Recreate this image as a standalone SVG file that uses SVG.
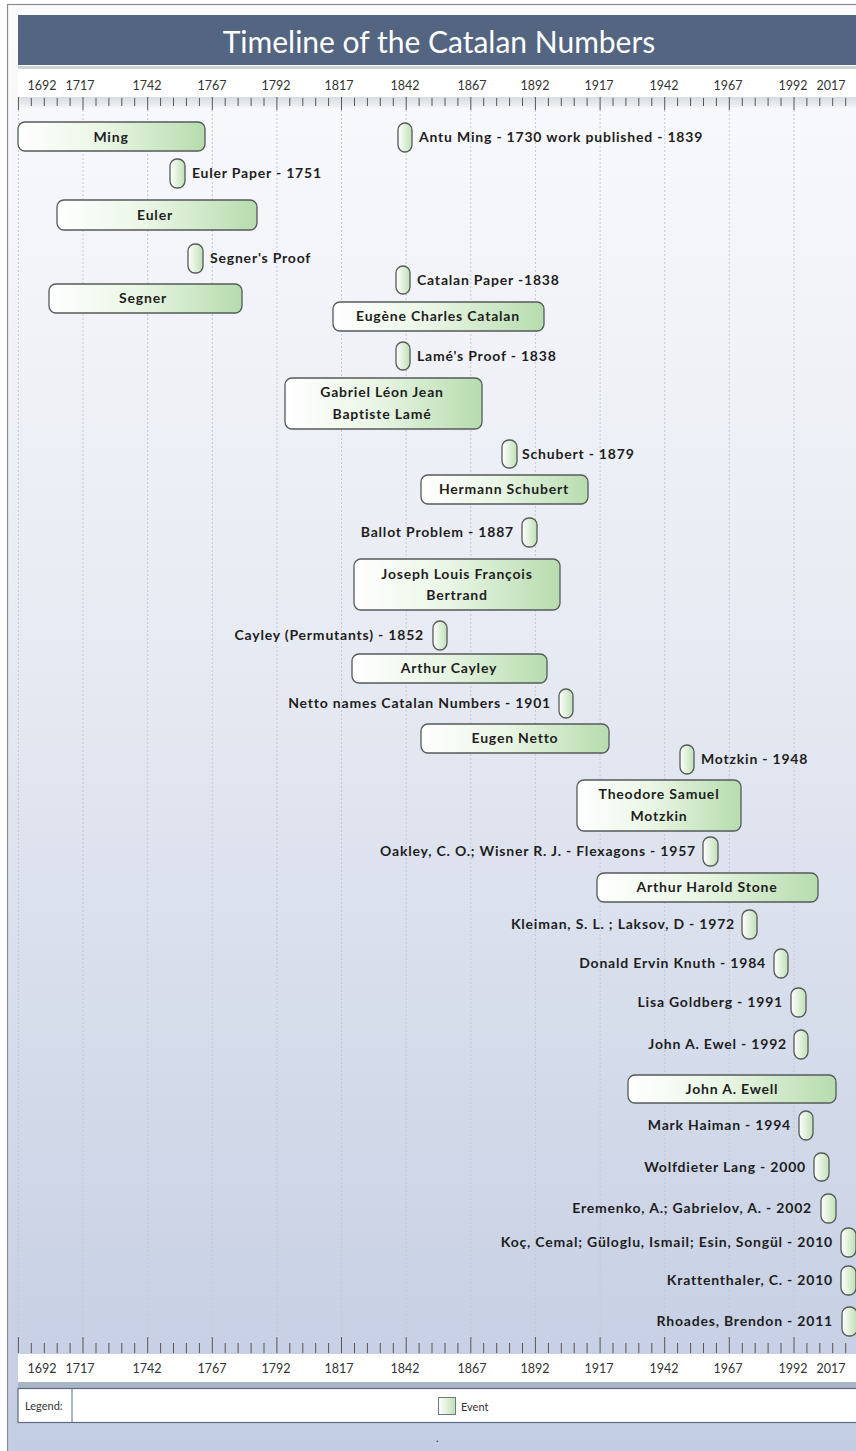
<svg xmlns="http://www.w3.org/2000/svg" width="856" height="1451" viewBox="0 0 856 1451">
<defs>
<linearGradient id="bg" x1="0" y1="0" x2="0" y2="1">
<stop offset="0" stop-color="#fbfbfd"/>
<stop offset="0.45" stop-color="#e6eaf2"/>
<stop offset="1" stop-color="#c2cce2"/>
</linearGradient>
<linearGradient id="grn" x1="0" y1="0" x2="1" y2="0">
<stop offset="0" stop-color="#ffffff"/>
<stop offset="0.45" stop-color="#eaf6e6"/>
<stop offset="1" stop-color="#b7dcae"/>
</linearGradient>
<linearGradient id="pill" x1="0" y1="0" x2="1" y2="0">
<stop offset="0" stop-color="#ffffff"/>
<stop offset="1" stop-color="#bfe0b4"/>
</linearGradient>
<linearGradient id="rul" x1="0" y1="0" x2="0" y2="1">
<stop offset="0" stop-color="#d6dae2"/>
<stop offset="1" stop-color="#f3f4f7"/>
</linearGradient>
<style>
.bar{fill:url(#grn);stroke:#555a5a;stroke-width:1.3}
.pl{fill:url(#pill);stroke:#555a5a;stroke-width:1.3}
.bt{font-family:Lato,"Open Sans",sans-serif;font-weight:bold;font-size:14px;letter-spacing:0.8px;fill:#1e1e1e;text-anchor:middle}
.lt{font-family:Lato,"Open Sans",sans-serif;font-weight:bold;font-size:14px;letter-spacing:0.8px;fill:#1e1e1e}
.le{text-anchor:end}
.yr{font-family:Lato,"Open Sans",sans-serif;font-size:12.5px;fill:#333;text-anchor:middle}
.grid{stroke:#c3c8d2;stroke-width:1;stroke-dasharray:2 2}
.tk{stroke:#555;stroke-width:1;fill:none}
.sm{font-family:Lato,"Open Sans",sans-serif;font-size:11px;fill:#333}
</style>
</defs>
<rect x="0" y="0" width="856" height="1451" fill="#ffffff"/>
<rect x="7.5" y="4.5" width="860" height="1460" fill="url(#bg)" stroke="#8a8d92" stroke-width="1.2"/>
<g id="header">
<rect x="18" y="15" width="850" height="50" fill="#536580"/>
<text x="439" y="53" font-family="Lato,'Open Sans',sans-serif" font-size="30" fill="#ffffff" text-anchor="middle">Timeline of the Catalan Numbers</text>
</g>
<g id="top-axis">
<rect x="18" y="66" width="850" height="4" fill="#cdd2da"/>
<rect x="18" y="69" width="850" height="28" fill="#ffffff"/>
<rect x="18" y="97" width="850" height="11" fill="url(#rul)"/>
<text class="yr" x="42" y="90">1692</text>
<text class="yr" x="80" y="90">1717</text>
<text class="yr" x="147" y="90">1742</text>
<text class="yr" x="212" y="90">1767</text>
<text class="yr" x="276" y="90">1792</text>
<text class="yr" x="339" y="90">1817</text>
<text class="yr" x="405" y="90">1842</text>
<text class="yr" x="472" y="90">1867</text>
<text class="yr" x="535" y="90">1892</text>
<text class="yr" x="599" y="90">1917</text>
<text class="yr" x="664" y="90">1942</text>
<text class="yr" x="728" y="90">1967</text>
<text class="yr" x="793" y="90">1992</text>
<text class="yr" x="831" y="90">2017</text>
<path class="tk" d="M18.4 97v13M31.3 98v8M44.3 98v8M57.2 98v8M70.1 98v8M83 97v13M96 98v8M108.9 98v8M121.8 98v8M134.7 98v8M147.7 97v13M160.6 98v8M173.5 98v8M186.4 98v8M199.4 98v8M212.3 97v13M225.2 98v8M238.1 98v8M251.1 98v8M264 98v8M276.9 97v13M289.8 98v8M302.8 98v8M315.7 98v8M328.6 98v8M341.5 97v13M354.5 98v8M367.4 98v8M380.3 98v8M393.3 98v8M406.2 97v13M419.1 98v8M432 98v8M445 98v8M457.9 98v8M470.8 97v13M483.7 98v8M496.7 98v8M509.6 98v8M522.5 98v8M535.4 97v13M548.4 98v8M561.3 98v8M574.2 98v8M587.1 98v8M600.1 97v13M613 98v8M625.9 98v8M638.8 98v8M651.8 98v8M664.7 97v13M677.6 98v8M690.6 98v8M703.5 98v8M716.4 98v8M729.3 97v13M742.3 98v8M755.2 98v8M768.1 98v8M781 98v8M794 97v13M806.9 98v8M819.8 98v8M832.7 98v8M845.7 98v8"/>
</g>
<g id="gridlines" class="grid">
<line x1="18.4" y1="110" x2="18.4" y2="1337"/>
<line x1="83" y1="110" x2="83" y2="1337"/>
<line x1="147.7" y1="110" x2="147.7" y2="1337"/>
<line x1="212.3" y1="110" x2="212.3" y2="1337"/>
<line x1="276.9" y1="110" x2="276.9" y2="1337"/>
<line x1="341.5" y1="110" x2="341.5" y2="1337"/>
<line x1="406.2" y1="110" x2="406.2" y2="1337"/>
<line x1="470.8" y1="110" x2="470.8" y2="1337"/>
<line x1="535.4" y1="110" x2="535.4" y2="1337"/>
<line x1="600.1" y1="110" x2="600.1" y2="1337"/>
<line x1="664.7" y1="110" x2="664.7" y2="1337"/>
<line x1="729.3" y1="110" x2="729.3" y2="1337"/>
<line x1="794" y1="110" x2="794" y2="1337"/>
</g>
<g id="bottom-axis">
<path class="tk" d="M18.4 1337v16M31.3 1343v10M44.3 1343v10M57.2 1343v10M70.1 1343v10M83 1337v16M96 1343v10M108.9 1343v10M121.8 1343v10M134.7 1343v10M147.7 1337v16M160.6 1343v10M173.5 1343v10M186.4 1343v10M199.4 1343v10M212.3 1337v16M225.2 1343v10M238.1 1343v10M251.1 1343v10M264 1343v10M276.9 1337v16M289.8 1343v10M302.8 1343v10M315.7 1343v10M328.6 1343v10M341.5 1337v16M354.5 1343v10M367.4 1343v10M380.3 1343v10M393.3 1343v10M406.2 1337v16M419.1 1343v10M432 1343v10M445 1343v10M457.9 1343v10M470.8 1337v16M483.7 1343v10M496.7 1343v10M509.6 1343v10M522.5 1343v10M535.4 1337v16M548.4 1343v10M561.3 1343v10M574.2 1343v10M587.1 1343v10M600.1 1337v16M613 1343v10M625.9 1343v10M638.8 1343v10M651.8 1343v10M664.7 1337v16M677.6 1343v10M690.6 1343v10M703.5 1343v10M716.4 1343v10M729.3 1337v16M742.3 1343v10M755.2 1343v10M768.1 1343v10M781 1343v10M794 1337v16M806.9 1343v10M819.8 1343v10M832.7 1343v10M845.7 1343v10"/>
<rect x="18" y="1354" width="850" height="28" fill="#ffffff"/>
<rect x="18" y="1382" width="850" height="6" fill="#aab4c6"/>
<text class="yr" x="42" y="1373">1692</text>
<text class="yr" x="80" y="1373">1717</text>
<text class="yr" x="147" y="1373">1742</text>
<text class="yr" x="212" y="1373">1767</text>
<text class="yr" x="276" y="1373">1792</text>
<text class="yr" x="339" y="1373">1817</text>
<text class="yr" x="405" y="1373">1842</text>
<text class="yr" x="472" y="1373">1867</text>
<text class="yr" x="535" y="1373">1892</text>
<text class="yr" x="599" y="1373">1917</text>
<text class="yr" x="664" y="1373">1942</text>
<text class="yr" x="728" y="1373">1967</text>
<text class="yr" x="793" y="1373">1992</text>
<text class="yr" x="831" y="1373">2017</text>
</g>
<g id="legend">
<rect x="18" y="1388.5" width="850" height="34" fill="#ffffff" stroke="#5c6b80" stroke-width="1.2"/>
<line x1="72" y1="1389" x2="72" y2="1422" stroke="#5c6b80" stroke-width="1"/>
<text class="sm" x="25" y="1410">Legend:</text>
<rect x="438.5" y="1397.5" width="17" height="17" fill="url(#pill)" stroke="#6a7a80" stroke-width="1"/>
<text class="sm" x="461" y="1411" font-size="10.5">Event</text>
<text class="sm" x="436" y="1442" font-size="8">.</text>
</g>
<g id="n-ming"><rect class="bar" x="18" y="122" width="187" height="29" rx="7"/><text class="bt" x="111" y="141.5">Ming</text></g>
<g id="n-antu"><rect class="pl" x="398" y="123" width="14" height="29" rx="7"/><text class="lt" x="419" y="142">Antu Ming - 1730 work published - 1839</text></g>
<g id="n-eulerpaper"><rect class="pl" x="170" y="159" width="15" height="29" rx="7"/><text class="lt" x="192" y="178">Euler Paper - 1751</text></g>
<g id="n-euler"><rect class="bar" x="57" y="200" width="200" height="30" rx="7"/><text class="bt" x="155" y="219.5">Euler</text></g>
<g id="n-segnerproof"><rect class="pl" x="188" y="244" width="15" height="29" rx="7"/><text class="lt" x="210" y="263">Segner's Proof</text></g>
<g id="n-catalanpaper"><rect class="pl" x="396" y="266" width="14" height="28" rx="7"/><text class="lt" x="417" y="284.5">Catalan Paper -1838</text></g>
<g id="n-segner"><rect class="bar" x="49" y="284" width="193" height="29" rx="7"/><text class="bt" x="143" y="303">Segner</text></g>
<g id="n-catalan"><rect class="bar" x="333" y="302" width="211" height="29" rx="7"/><text class="bt" x="438" y="321">Eugène Charles Catalan</text></g>
<g id="n-lameproof"><rect class="pl" x="396" y="342" width="14" height="28" rx="7"/><text class="lt" x="417" y="360.5">Lamé's Proof - 1838</text></g>
<g id="n-lame"><rect class="bar" x="285" y="378" width="197" height="51" rx="7"/><text class="bt" x="382" y="397">Gabriel Léon Jean</text><text class="bt" x="382" y="419">Baptiste Lamé</text></g>
<g id="n-schubertev"><rect class="pl" x="502" y="440" width="15" height="28" rx="7"/><text class="lt" x="522" y="458.5">Schubert - 1879</text></g>
<g id="n-schubert"><rect class="bar" x="421" y="475" width="167" height="29" rx="7"/><text class="bt" x="504" y="494">Hermann Schubert</text></g>
<g id="n-ballot"><rect class="pl" x="522" y="518" width="15" height="29" rx="7"/><text class="lt le" x="514" y="537">Ballot Problem - 1887</text></g>
<g id="n-bertrand"><rect class="bar" x="354" y="559" width="206" height="51" rx="7"/><text class="bt" x="457" y="579">Joseph Louis François</text><text class="bt" x="457" y="600">Bertrand</text></g>
<g id="n-cayleyev"><rect class="pl" x="433" y="621" width="14" height="29" rx="7"/><text class="lt le" x="424" y="640">Cayley (Permutants) - 1852</text></g>
<g id="n-cayley"><rect class="bar" x="352" y="654" width="195" height="29" rx="7"/><text class="bt" x="449" y="673">Arthur Cayley</text></g>
<g id="n-nettoev"><rect class="pl" x="559" y="689" width="14" height="29" rx="7"/><text class="lt le" x="551" y="708">Netto names Catalan Numbers - 1901</text></g>
<g id="n-netto"><rect class="bar" x="421" y="724" width="188" height="29" rx="7"/><text class="bt" x="515" y="743">Eugen Netto</text></g>
<g id="n-motzkinev"><rect class="pl" x="680" y="745" width="14" height="29" rx="7"/><text class="lt" x="701" y="764">Motzkin - 1948</text></g>
<g id="n-motzkin"><rect class="bar" x="577" y="780" width="164" height="51" rx="7"/><text class="bt" x="659" y="799">Theodore Samuel</text><text class="bt" x="659" y="821">Motzkin</text></g>
<g id="n-oakley"><rect class="pl" x="703" y="837" width="15" height="29" rx="7"/><text class="lt le" x="696" y="856">Oakley, C. O.; Wisner R. J. - Flexagons - 1957</text></g>
<g id="n-stone"><rect class="bar" x="597" y="873" width="221" height="29" rx="7"/><text class="bt" x="707" y="892">Arthur Harold Stone</text></g>
<g id="n-kleiman"><rect class="pl" x="742" y="910" width="15" height="29" rx="7"/><text class="lt le" x="735" y="929">Kleiman, S. L. ; Laksov, D - 1972</text></g>
<g id="n-knuth"><rect class="pl" x="774" y="949" width="14" height="29" rx="7"/><text class="lt le" x="766" y="968">Donald Ervin Knuth - 1984</text></g>
<g id="n-goldberg"><rect class="pl" x="791" y="988" width="15" height="29" rx="7"/><text class="lt le" x="783" y="1007">Lisa Goldberg - 1991</text></g>
<g id="n-ewel"><rect class="pl" x="794" y="1030" width="14" height="29" rx="7"/><text class="lt le" x="787" y="1049">John A. Ewel - 1992</text></g>
<g id="n-ewell"><rect class="bar" x="628" y="1075" width="208" height="28" rx="7"/><text class="bt" x="732" y="1093.5">John A. Ewell</text></g>
<g id="n-haiman"><rect class="pl" x="799" y="1111" width="14" height="29" rx="7"/><text class="lt le" x="791" y="1130">Mark Haiman - 1994</text></g>
<g id="n-lang"><rect class="pl" x="814" y="1153" width="15" height="28" rx="7"/><text class="lt le" x="806" y="1171.5">Wolfdieter Lang - 2000</text></g>
<g id="n-eremenko"><rect class="pl" x="821" y="1194" width="15" height="29" rx="7"/><text class="lt le" x="812" y="1213">Eremenko, A.; Gabrielov, A. - 2002</text></g>
<g id="n-koc"><rect class="pl" x="841" y="1228" width="15" height="29" rx="7"/><text class="lt le" x="833" y="1247">Koç, Cemal; Güloglu, Ismail; Esin, Songül - 2010</text></g>
<g id="n-kratt"><rect class="pl" x="841" y="1266" width="15" height="29" rx="7"/><text class="lt le" x="833" y="1285">Krattenthaler, C. - 2010</text></g>
<g id="n-rhoades"><rect class="pl" x="842" y="1307" width="15" height="29" rx="7"/><text class="lt le" x="833" y="1326">Rhoades, Brendon - 2011</text></g>
<g id="connectors"></g>
</svg>
